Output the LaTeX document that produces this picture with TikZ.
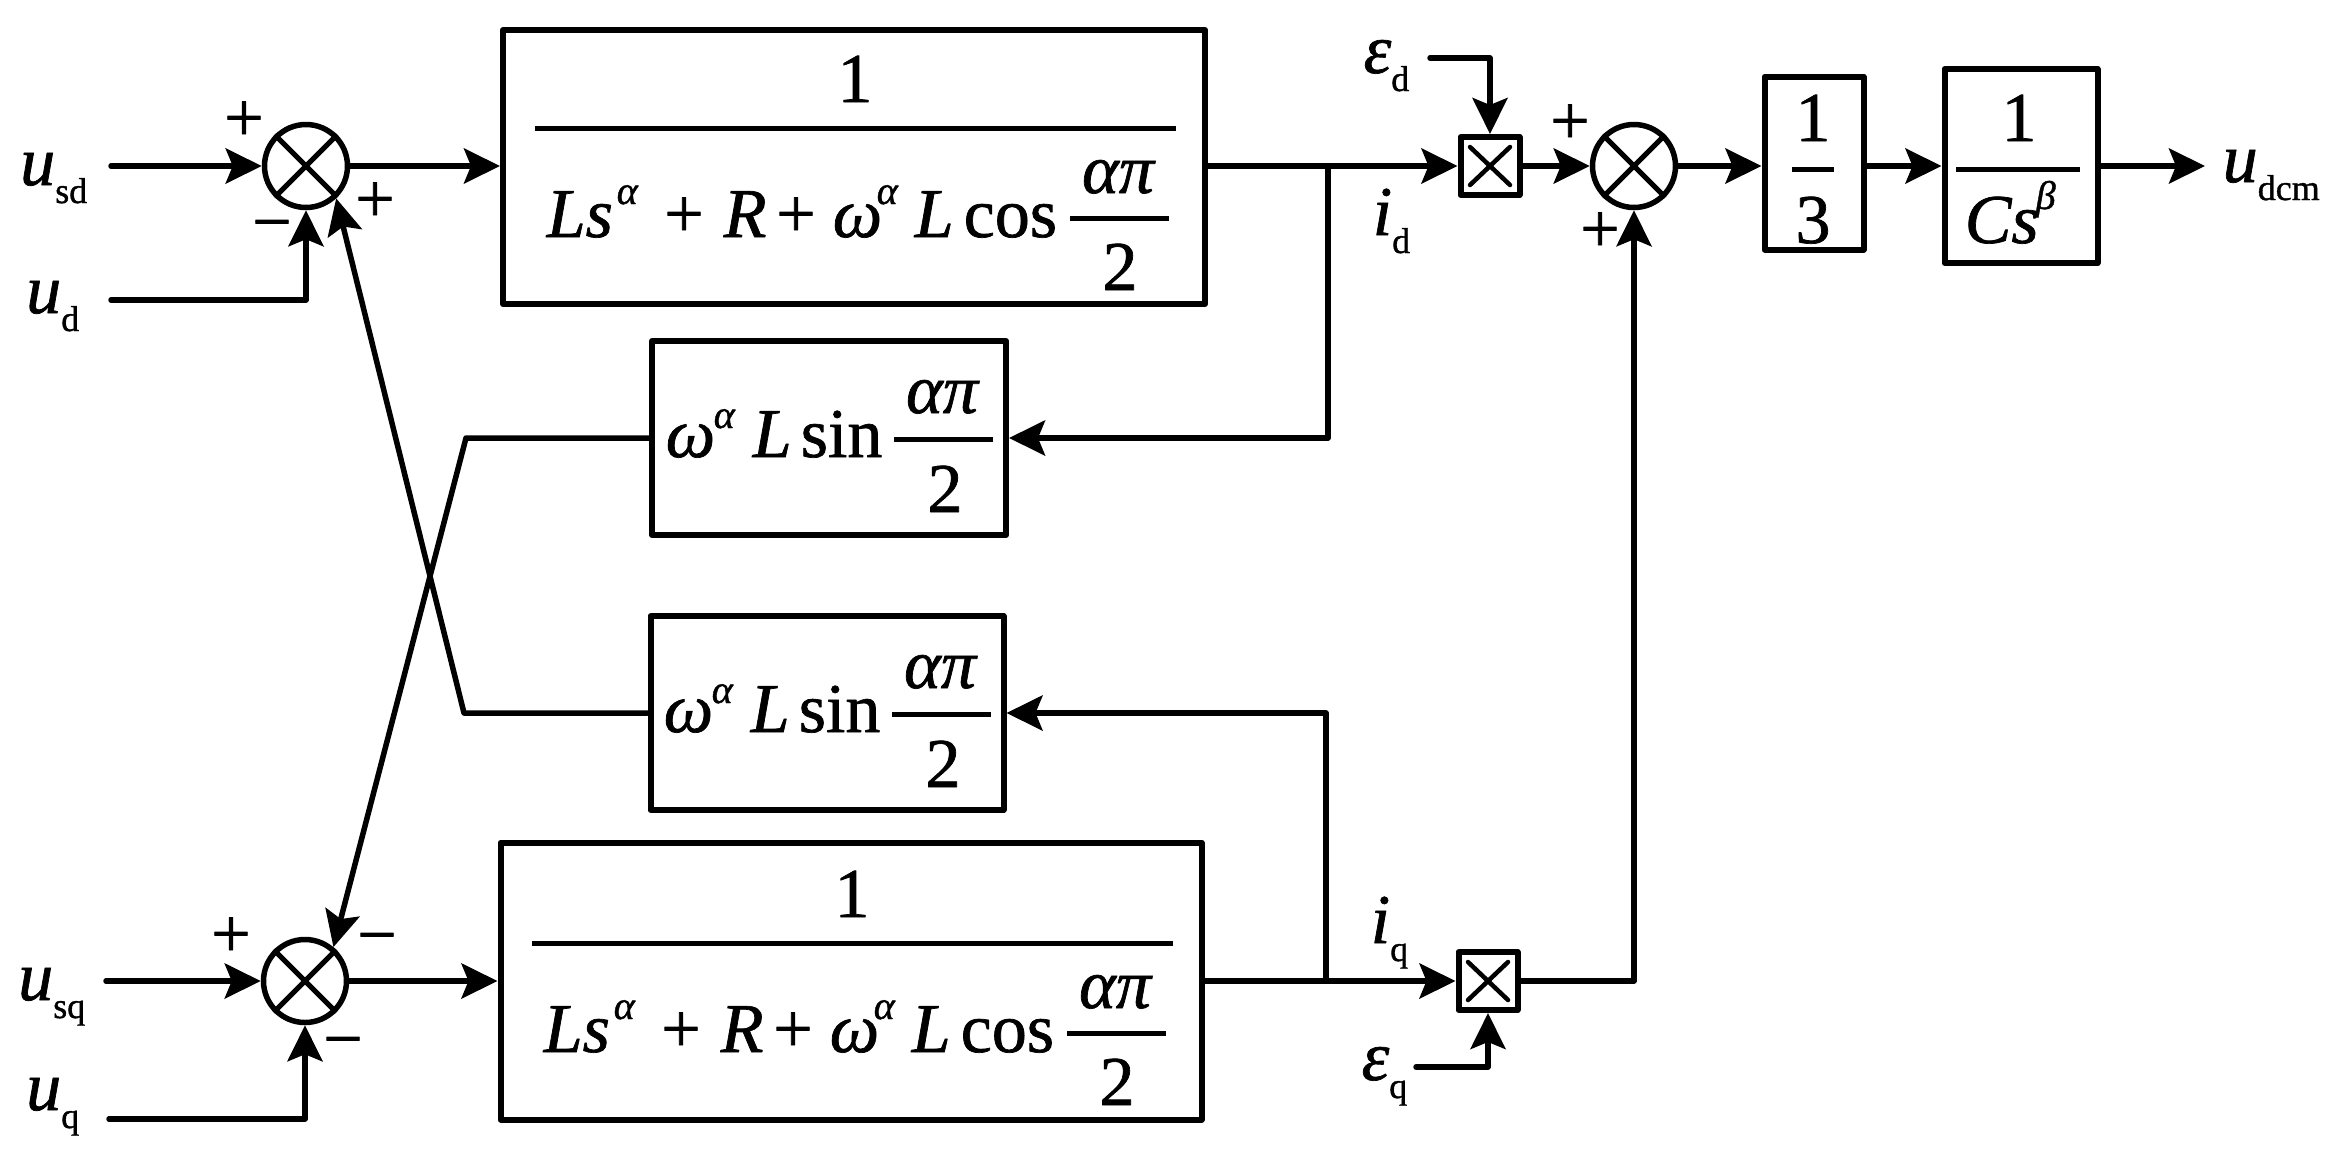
\documentclass[tikz,border=0pt]{standalone}
\usepackage{fontspec}
\setmainfont{Liberation Serif}
\newfontfamily\tnr{Liberation Serif}[FakeBold=1]
\usetikzlibrary{arrows.meta}
\newcommand\bigf{\tnr\fontsize{70}{80}\selectfont}
\newcommand\smf{\tnr\fontsize{36}{38}\selectfont}
\newcommand\supf{\tnr\fontsize{40}{42}\selectfont}
\newcommand\sbs[1]{\raisebox{-18pt}{\smf #1}}
% big fraction denominator (pieces placed at the reference positions)
\newcommand\denom[3]{%
\begin{scope}[shift={(#2,#3)}]
\node[txt,anchor=base] (#1one) at (855,102) {1};
\draw[frule] (535,128) -- (1176,128);
\node[txt,anchor=base west] (#1Ls) at (544,237) {\itshape Ls};
\node[supx,anchor=base west] (#1a1) at (614,204) {\itshape α};
\node[txt,anchor=base] (#1p1) at (684,237) {+};
\node[txt,anchor=base west] (#1R) at (721,237) {\itshape R};
\node[txt,anchor=base] (#1p2) at (796,237) {+};
\node[txt,anchor=base west] (#1w) at (830,237) {\itshape ω};
\node[supx,anchor=base west] (#1a2) at (874,204) {\itshape α};
\node[txt,anchor=base west] (#1L2) at (912,237) {\itshape L};
\node[txt,anchor=base west] (#1cos) at (961,237) {cos};
\node[txt,anchor=base] (#1ap) at (1118,193) {\itshape απ};
\draw[frule] (1070,218) -- (1169,218);
\node[txt,anchor=base] (#1two) at (1120,290) {2};
\end{scope}}
\newcommand\sinblk[3]{%
\begin{scope}[shift={(#2,#3)}]
\node[txt,anchor=base west] (#1w) at (663,457) {\itshape ω};
\node[supx,anchor=base west] (#1a) at (711,428) {\itshape α};
\node[txt,anchor=base west] (#1L) at (750,457) {\itshape L};
\node[txt,anchor=base west] (#1sin) at (798,457) {sin};
\node[txt,anchor=base] (#1ap) at (942,413) {\itshape απ};
\draw[frule] (894,439) -- (993,439);
\node[txt,anchor=base] (#1two) at (945,512) {2};
\end{scope}}
\begin{document}
\begin{tikzpicture}[x=1pt,y=-1pt, line width=5.5pt, line cap=round, line join=round,
  >={Stealth[length=36pt,width=35pt,inset=7pt]},
  blk/.style={draw,rectangle,inner sep=0pt,line width=6pt,line cap=rect},
  sumc/.style={draw,circle,minimum size=83pt,inner sep=0pt,line width=5.5pt},
  mulb/.style={draw,rectangle,minimum width=59pt,minimum height=58pt,inner sep=0pt,line width=6pt},
  txt/.style={inner sep=0pt,font=\bigf},
  supx/.style={inner sep=0pt,font=\supf},
  sgn/.style={inner sep=0pt,font=\bigf,anchor=base},
  frule/.style={line width=5pt,line cap=butt}]
\useasboundingbox (0,0) rectangle (2344,1157);

% ---- blocks ----
\node[blk,minimum width=702pt,minimum height=274pt] (b1) at (854,167) {};
\node[blk,minimum width=701pt,minimum height=277pt] (b4) at (851,981) {};
\node[blk,minimum width=354pt,minimum height=194pt] (sinU) at (829,438) {};
\node[blk,minimum width=353pt,minimum height=194pt] (sinL) at (827,713) {};
\node[blk,minimum width=99pt,minimum height=173pt] (b13) at (1814,163) {};
\node[blk,minimum width=153pt,minimum height=194pt] (bC) at (2021,166) {};

% ---- summing junctions ----
\node[sumc] (s1) at (306,166) {};
\node[sumc] (s2) at (1634,166) {};
\node[sumc] (s3) at (305,981) {};
\foreach \s in {s1,s2,s3}{
  \draw[line width=5pt,line cap=butt] (\s.north west) -- (\s.south east) (\s.north east) -- (\s.south west);
}
% ---- multipliers ----
\node[mulb] (m1) at (1490,166) {};
\node[mulb] (m2) at (1488,981) {};
\foreach \m in {m1,m2}{
  \draw[line width=4.5pt] ([shift={(-20,-19)}]\m.center) -- ([shift={(20,19)}]\m.center)
        ([shift={(20,-19)}]\m.center) -- ([shift={(-20,19)}]\m.center);
}

% ---- block contents ----
\denom{dA}{0}{0}
\denom{dB}{-3}{815}
\sinblk{sa}{0}{0}
\sinblk{sb}{-2}{275}

\node[txt,anchor=base] (b13num) at (1813,141) {1};
\draw[frule] (1792,169) -- (1834,169);
\node[txt,anchor=base] (b13den) at (1813,243) {3};

\node[txt,anchor=base] (bCnum) at (2019,141) {1};
\draw[frule] (1956,169) -- (2080,169);
\node[txt,anchor=base west] (bCden) at (1962,243) {\itshape Cs};
\node[supx,anchor=base west] (bCb) at (2033,209) {\itshape β};

% ---- labels ----
\node[txt,anchor=base east] (lusd) at (90,185) {{\itshape u}\sbs{sd}};
\node[txt,anchor=base east] (lud) at (82,313) {{\itshape u}\sbs{d}};
\node[txt,anchor=base east] (lusq) at (88,1000) {{\itshape u}\sbs{sq}};
\node[txt,anchor=base east] (luq) at (82,1110) {{\itshape u}\sbs{q}};
\node[txt,anchor=base east] (led) at (1412,73) {{\itshape ε}\sbs{d}};
\node[txt,anchor=base east] (leq) at (1410,1080) {{\itshape ε}\sbs{q}};
\node[txt,anchor=base west] (lid) at (1370,235) {{\itshape i}\sbs{d}};
\node[txt,anchor=base west] (liq) at (1368,943) {{\itshape i}\sbs{q}};
\node[txt,anchor=base west] (ludcm) at (2220,182) {{\itshape u}\sbs{dcm}};

% ---- signs ----
\node[sgn] (p1) at (244,141) {+};
\node[sgn] (n1) at (272,245) {−};
\node[sgn] (p2) at (375,222) {+};
\node[sgn] (p3) at (231,957) {+};
\node[sgn] (n3) at (377,958) {−};
\node[sgn] (n4) at (343,1062) {−};
\node[sgn] (p5) at (1570,144) {+};
\node[sgn] (p6) at (1600,252) {+};

% ---- coordinates ----
\coordinate (in1) at (111,166);
\coordinate (ind) at (111,300);
\coordinate (in3) at (106,981);
\coordinate (inq) at (109,1119);
\coordinate (j1) at (1328,166);
\coordinate (j2) at (1326,981);
\coordinate (ed) at (1430,58);
\coordinate (eq) at (1416,1067);
\coordinate (k1) at (466,438);
\coordinate (k2) at (464,713);
\coordinate (out) at (2205,166);

% ---- connectors ----
\draw[->] (in1) -- (s1.west);
\draw[->] (ind) -| (s1.south);
\draw[->] (s1.east) -- (b1.west |- s1.east);
\draw[->] (b1.east |- s1.east) -- (m1.west);
\draw[->] (j1) |- (sinU.east);
\draw[->] (m1.east) -- (s2.west);
\draw[->] (ed) -| (m1.north);
\draw[->] (s2.east) -- (s2.east -| b13.west);
\draw[->] (s2.east -| b13.east) -- (s2.east -| bC.west);
\draw[->] (bC.east) -- (out);
\draw[->] (sinU.west) -- (k1) -- (s3.50);
\draw[->] (sinL.west) -- (k2) -- (s1.-47);

\draw[->] (in3) -- (s3.west);
\draw[->] (inq) -| (s3.south);
\draw[->] (s3.east) -- (b4.west);
\draw[->] (b4.east) -- (m2.west);
\draw[->] (j2) |- (sinL.east);
\draw[->] (m2.east) -| (s2.south);
\draw[->] (eq) -| (m2.south);
\end{tikzpicture}
\end{document}
